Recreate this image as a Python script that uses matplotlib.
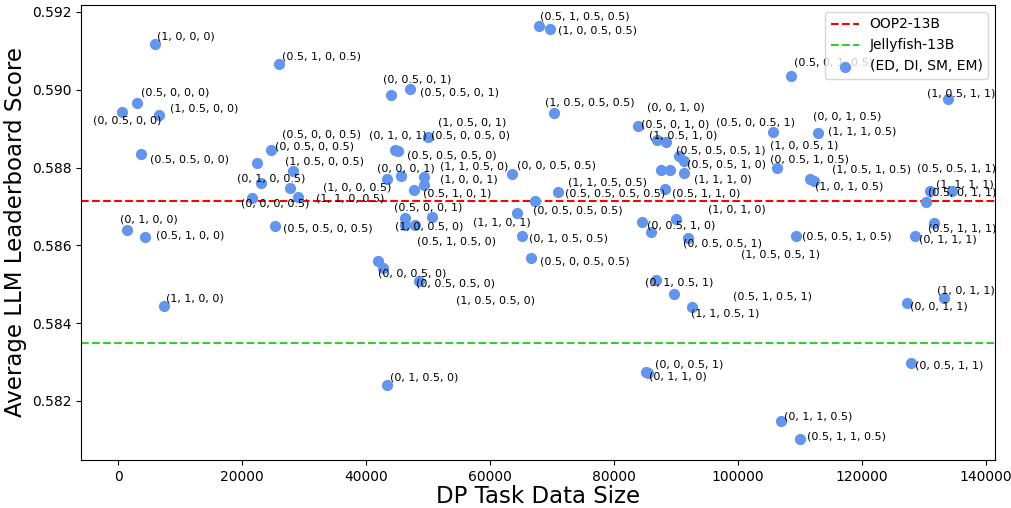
import matplotlib
matplotlib.use("Agg")
import matplotlib.pyplot as plt
from matplotlib.ticker import FormatStrFormatter, FixedLocator

# (ED, DI, SM, EM) configurations
labels = [
    "(1, 0, 0, 0)", "(0.5, 1, 0, 0.5)", "(0.5, 0, 0, 0)", "(0, 0.5, 0, 0)", "(1, 0.5, 0, 0)",
    "(0.5, 0.5, 0, 0)", "(0, 1, 0, 0)", "(0.5, 1, 0, 0)", "(1, 1, 0, 0)", "(0, 0.5, 0, 0.5)",
    "(0.5, 0, 0, 0.5)", "(1, 0.5, 0, 0.5)", "(0, 1, 0, 0.5)", "(1, 0, 0, 0.5)", "(0, 0, 0, 0.5)",
    "(1, 1, 0, 0.5)", "(0.5, 0.5, 0, 0.5)", "(0, 0.5, 0, 1)", "(0.5, 0.5, 0, 1)", "(0.5, 1, 0.5, 0.5)",
    "(1, 0, 0.5, 0.5)", "(1, 0.5, 0, 1)", "(0, 1, 0, 1)", "(0.5, 0, 0.5, 0)", "(0.5, 0.5, 0.5, 0)",
    "(0, 0, 0, 1)", "(1, 1, 0.5, 0)", "(1, 0, 0, 1)", "(0.5, 1, 0, 1)", "(0.5, 0, 0, 1)",
    "(1, 0, 0.5, 0)", "(0.5, 1, 0.5, 0)", "(1, 1, 0, 1)", "(0, 0, 0.5, 0)", "(1, 0.5, 0.5, 0)",
    "(0, 0.5, 0.5, 0)", "(0, 1, 0.5, 0)", "(0, 0, 0.5, 0.5)", "(0, 0.5, 0.5, 0.5)", "(0, 1, 0.5, 0.5)",
    "(0.5, 0, 0.5, 0.5)", "(1, 1, 0.5, 0.5)", "(0.5, 0.5, 0.5, 0.5)", "(1, 0.5, 0.5, 0.5)", "(0.5, 0, 1, 0)",
    "(0, 0, 1, 0)", "(1, 0.5, 1, 0)", "(0.5, 0.5, 0.5, 1)", "(0.5, 0.5, 1, 0)", "(0, 0.5, 1, 0.5)",
    "(1, 0, 0.5, 1)", "(1, 1, 1, 0)", "(0.5, 1, 1, 0)", "(0, 0.5, 1, 0)", "(1, 0.5, 0.5, 1)",
    "(1, 0, 1, 0)", "(0, 0.5, 0.5, 1)", "(0, 1, 0.5, 1)", "(0.5, 1, 0.5, 1)", "(1, 1, 0.5, 1)",
    "(0, 0, 0.5, 1)", "(0, 1, 1, 0)", "(0.5, 0, 1, 0.5)", "(0.5, 0, 0.5, 1)", "(1, 1, 1, 0.5)",
    "(0, 0, 1, 0.5)", "(1, 0.5, 1, 0.5)", "(1, 0, 1, 0.5)", "(0.5, 0.5, 1, 0.5)", "(1, 0.5, 1, 1)",
    "(0.5, 0.5, 1, 1)", "(1, 1, 1, 1)", "(0.5, 0, 1, 1)", "(0.5, 1, 1, 1)", "(0, 1, 1, 1)",
    "(0, 0, 1, 1)", "(1, 0, 1, 1)", "(0, 0.5, 1, 1)", "(0, 1, 1, 0.5)", "(0.5, 1, 1, 0.5)",
]

data_size = [
    5890, 25990, 2990, 610, 6590, 3580, 1320, 4280, 7300, 24570,
    22310, 28250, 22950, 27630, 21600, 28980, 25310, 43990, 47010, 67930,
    69650, 49960, 44630, 45200, 45650, 43340, 49310, 49310, 47700, 46300,
    46300, 47910, 50650, 41940, 42650, 48510, 43290, 63520, 67230, 65090,
    66630, 70940, 64280, 70250, 83910, 86880, 88330, 90520, 91330, 87570,
    88980, 91280, 88260, 84580, 86040, 89940, 91960, 86720, 89670, 92620,
    85150, 85470, 108560, 105600, 112960, 106300, 111620, 112320, 109310, 133950,
    130990, 134590, 130300, 131590, 128650, 127330, 133300, 127970, 106990, 109960,
]

score = [
    0.591177, 0.590663, 0.589661, 0.589422, 0.589360, 0.588342, 0.586396, 0.586224, 0.584442, 0.588452,
    0.588126, 0.587913, 0.587596, 0.587483, 0.587226, 0.587252, 0.586499, 0.589874, 0.590013, 0.591640,
    0.591555, 0.588779, 0.588440, 0.588427, 0.587784, 0.587699, 0.587766, 0.587545, 0.587424, 0.586697,
    0.586524, 0.586524, 0.586738, 0.585591, 0.585427, 0.585093, 0.582419, 0.587843, 0.587134, 0.586242,
    0.585684, 0.587365, 0.586825, 0.589411, 0.589062, 0.588710, 0.588650, 0.588298, 0.588177, 0.587931,
    0.587931, 0.587853, 0.587442, 0.586589, 0.586337, 0.586679, 0.586182, 0.585111, 0.584751, 0.584416,
    0.582745, 0.582707, 0.590355, 0.588923, 0.588889, 0.587977, 0.587699, 0.587663, 0.586242, 0.589756,
    0.587406, 0.587406, 0.587116, 0.586584, 0.586242, 0.584527, 0.584640, 0.582985, 0.581486, 0.581031,
]

oop2_13b = 0.58714
jellyfish_13b = 0.58349

x_ticks = [0, 20000, 40000, 60000, 80000, 100000, 120000, 140000]
y_ticks = [0.582, 0.584, 0.586, 0.588, 0.590, 0.592]

# label offsets from each point (pixels, right / down)
label_offsets = [
    (2, -7), (3, -7), (4, -10), (-29, 8), (11, -6), (9, 5), (-7, -10), (11, -1), (2, -7), (4, -3),
    (25, -28), (-8, -9), (-24, -5), (33, 0), (-11, 6), (18, 2), (8, 3), (-8, -15), (10, 3), (1, -9),
    (8, 1), (10, -15), (-26, -15), (33, -15), (6, -20), (-10, -11), (16, -10), (16, -6), (9, 4), (-11, -11),
    (-10, 2), (2, 17), (41, 6), (0, 12), (73, 33), (-3, 3), (3, -7), (5, -8), (-2, 9), (7, 3),
    (9, 4), (10, -10), (48, -20), (-9, -10), (3, -2), (-10, -32), (-17, -7), (-3, -5), (3, 4), (109, -11),
    (100, -25), (10, 6), (7, 4), (5, 3), (90, 22), (32, -9), (-5, 5), (-11, 3), (59, 3), (-1, 7),
    (9, -8), (1, 3), (3, -13), (-57, -9), (10, -1), (36, -52), (22, -10), (1, 6), (6, 1), (-21, -6),
    (-13, -22), (-16, -6), (2, -9), (-6, 6), (4, 4), (3, 4), (-7, -8), (4, 3), (3, -4), (7, -2),
]

fig = plt.figure(figsize=(10.11, 5.08), dpi=100)
ax = fig.add_subplot(111)
fig.subplots_adjust(left=0.0801, right=0.9842, top=0.9902, bottom=0.0945)

ax.axhline(oop2_13b, color="red", linestyle="--", linewidth=1.5, label="OOP2-13B")
ax.axhline(jellyfish_13b, color="#32CD32", linestyle="--", linewidth=1.5, label="Jellyfish-13B")
ax.scatter(data_size, score, s=50, color="cornflowerblue", label="(ED, DI, SM, EM)", zorder=2)

for lab, xv, yv, (dx, dy) in zip(labels, data_size, score, label_offsets):
    ax.annotate(lab, (xv, yv), xytext=(dx * 0.72, -dy * 0.72), textcoords="offset points",
                fontsize=8, ha="left", va="center", zorder=3)

ax.set_xlim(-6050, 141500)
ax.set_ylim(0.580483, 0.59218)
ax.xaxis.set_major_locator(FixedLocator(x_ticks))
ax.yaxis.set_major_locator(FixedLocator(y_ticks))
ax.xaxis.set_major_formatter(FormatStrFormatter("%d"))
ax.yaxis.set_major_formatter(FormatStrFormatter("%.3f"))
ax.tick_params(labelsize=10)

ax.set_xlabel("DP Task Data Size", fontsize=16.5, labelpad=1)
ax.set_ylabel("Average LLM Leaderboard Score", fontsize=16.5, labelpad=3)

leg = ax.legend(loc="upper right", fontsize=10)
leg.set_zorder(5)

fig.savefig("out.png", dpi=100)
